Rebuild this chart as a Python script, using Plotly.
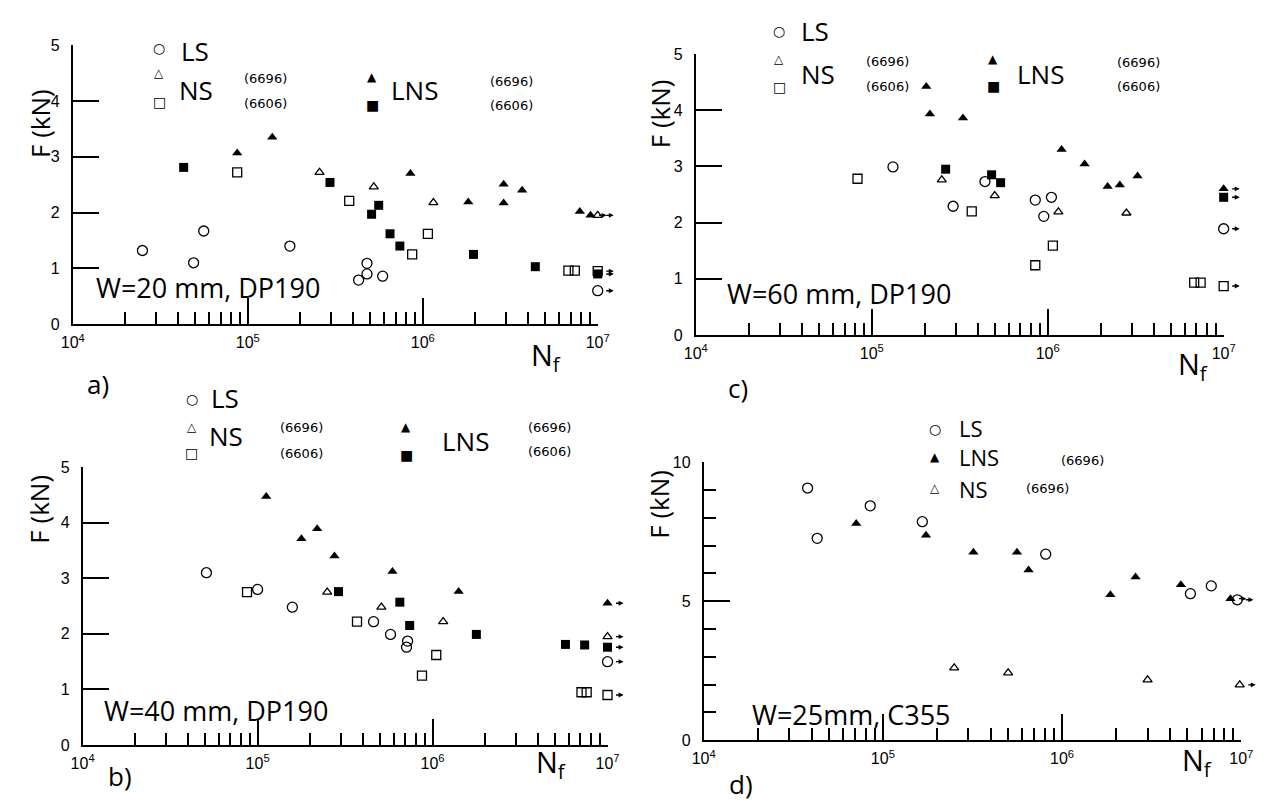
import math
import plotly.graph_objects as go

W, H = 1269, 803

# ---------------- data (N = cycles to failure, F in kN) ----------------
# Panel a) W=20 mm, DP190
a_LS_N = [2.5e4, 4.9e4, 5.6e4, 1.74e5, 4.3e5, 4.8e5, 4.8e5, 5.9e5, 1e7]
a_LS_F = [1.32, 1.10, 1.67, 1.40, 0.79, 0.90, 1.09, 0.86, 0.60]
a_NS96_N = [2.57e5, 5.25e5, 1.15e6, 1e7]
a_NS96_F = [2.72, 2.46, 2.18, 1.95]
a_NS06_N = [8.7e4, 3.8e5, 1.07e6, 8.7e5, 6.8e6, 7.4e6, 1e7]
a_NS06_F = [2.72, 2.21, 1.62, 1.25, 0.96, 0.96, 0.95]
a_LNS96_N = [8.7e4, 1.38e5, 8.5e5, 1.82e6, 2.9e6, 2.9e6, 3.7e6, 7.9e6, 9.1e6]
a_LNS96_F = [3.07, 3.35, 2.70, 2.19, 2.51, 2.17, 2.40, 2.02, 1.95]
a_LNS06_N = [4.3e4, 2.95e5, 5.1e5, 5.6e5, 6.5e5, 7.4e5, 1.95e6, 4.4e6, 1e7]
a_LNS06_F = [2.81, 2.54, 1.97, 2.13, 1.62, 1.40, 1.25, 1.03, 0.90]

# Panel b) W=40 mm, DP190
b_LS_N = [5.1e4, 1.0e5, 1.58e5, 4.6e5, 5.75e5, 7.2e5, 7.1e5, 1e7]
b_LS_F = [3.10, 2.80, 2.48, 2.22, 1.99, 1.87, 1.76, 1.50]
b_NS96_N = [2.5e5, 5.1e5, 1.15e6, 1e7]
b_NS96_F = [2.75, 2.48, 2.22, 1.95]
b_NS06_N = [8.7e4, 3.7e5, 8.7e5, 1.05e6, 7.1e6, 7.6e6, 1e7]
b_NS06_F = [2.75, 2.22, 1.25, 1.62, 0.95, 0.95, 0.90]
b_LNS96_N = [1.12e5, 1.78e5, 2.19e5, 2.75e5, 5.9e5, 1.41e6, 1e7]
b_LNS96_F = [4.47, 3.71, 3.89, 3.40, 3.12, 2.76, 2.55]
b_LNS06_N = [2.9e5, 6.5e5, 7.4e5, 1.78e6, 5.75e6, 7.4e6, 1e7]
b_LNS06_F = [2.76, 2.57, 2.15, 1.99, 1.81, 1.80, 1.76]

# Panel c) W=60 mm, DP190
c_LS_N = [1.32e5, 2.9e5, 4.4e5, 8.5e5, 1.05e6, 9.5e5, 1e7]
c_LS_F = [2.99, 2.29, 2.73, 2.40, 2.45, 2.11, 1.89]
c_NS96_N = [2.5e5, 5.0e5, 1.15e6, 2.8e6]
c_NS96_F = [2.76, 2.48, 2.19, 2.17]
c_NS06_N = [8.3e4, 3.7e5, 8.5e5, 1.07e6, 6.8e6, 7.4e6, 1e7]
c_NS06_F = [2.78, 2.20, 1.24, 1.59, 0.93, 0.93, 0.87]
c_LNS96_N = [2.04e5, 2.14e5, 3.3e5, 1.2e6, 1.62e6, 2.19e6, 2.57e6, 3.24e6, 1e7]
c_LNS96_F = [4.42, 3.93, 3.86, 3.30, 3.04, 2.64, 2.67, 2.83, 2.60]
c_LNS06_N = [2.63e5, 4.8e5, 5.4e5, 1e7]
c_LNS06_F = [2.95, 2.85, 2.71, 2.45]

# Panel d) W=25 mm, C355
d_LS_N = [3.8e4, 4.3e4, 8.5e4, 1.66e5, 8.1e5, 5.2e6, 6.8e6, 9.5e6]
d_LS_F = [9.07, 7.26, 8.43, 7.86, 6.69, 5.27, 5.55, 5.05]
d_LNS96_N = [7.1e4, 1.74e5, 3.2e5, 5.6e5, 6.5e5, 1.86e6, 2.57e6, 4.6e6, 8.7e6]
d_LNS96_F = [7.79, 7.37, 6.76, 6.76, 6.12, 5.23, 5.87, 5.59, 5.09]
d_NS96_N = [2.5e5, 5.0e5, 3.0e6, 9.8e6]
d_NS96_F = [2.60, 2.42, 2.17, 1.99]

x_major = [1e4, 1e5, 1e6, 1e7]
x_major_text = ["10<sup>4</sup>", "10<sup>5</sup>", "10<sup>6</sup>", "10<sup>7</sup>"]
x_minor = [m * 10 ** e for e in (4, 5, 6) for m in range(2, 10)]
RUNOUT = 8.5e6   # points at the end of the test (arrows)

# ---------------- styles ----------------
STY = {
    "LS": dict(symbol="circle-open", size=10, color="black", line=dict(width=1.3, color="black")),
    "NS96": dict(symbol="triangle-up-open", size=8, color="black", line=dict(width=1.3, color="black")),
    "NS06": dict(symbol="square-open", size=9, color="black", line=dict(width=1.3, color="black")),
    "LNS96": dict(symbol="triangle-up", size=9, color="black", line=dict(width=0, color="black")),
    "LNS06": dict(symbol="square", size=9, color="black", line=dict(width=0, color="black")),
}
TICKFONT = dict(family="Liberation Sans", size=16, color="black")
BIG = "Open Sans"

panels = {
    "a": dict(px=(62, 597), py=(38, 323), yr=[0, 5], ymaj=[0, 1, 2, 3, 4, 5], ymin=[],
              series=[("LS", a_LS_N, a_LS_F), ("NS96", a_NS96_N, a_NS96_F), ("NS06", a_NS06_N, a_NS06_F),
                      ("LNS96", a_LNS96_N, a_LNS96_F), ("LNS06", a_LNS06_N, a_LNS06_F)]),
    "b": dict(px=(72, 607), py=(469, 753), yr=[0, 5], ymaj=[0, 1, 2, 3, 4, 5], ymin=[],
              series=[("LS", b_LS_N, b_LS_F), ("NS96", b_NS96_N, b_NS96_F), ("NS06", b_NS06_N, b_NS06_F),
                      ("LNS96", b_LNS96_N, b_LNS96_F), ("LNS06", b_LNS06_N, b_LNS06_F)]),
    "c": dict(px=(697, 1235), py=(47, 334), yr=[0, 5], ymaj=[0, 1, 2, 3, 4, 5], ymin=[],
              series=[("LS", c_LS_N, c_LS_F), ("NS96", c_NS96_N, c_NS96_F), ("NS06", c_NS06_N, c_NS06_F),
                      ("LNS96", c_LNS96_N, c_LNS96_F), ("LNS06", c_LNS06_N, c_LNS06_F)]),
    "d": dict(px=(705, 1253), py=(464, 748), yr=[0, 10], ymaj=[0, 5, 10], ymin=[1, 2, 3, 4, 6, 7, 8, 9],
              series=[("LS", d_LS_N, d_LS_F), ("LNS96", d_LNS96_N, d_LNS96_F), ("NS96", d_NS96_N, d_NS96_F)]),
}

fig = go.Figure()
annotations = []

def pxX(p):
    return p / W

def pxY(p):
    return 1 - p / H

for i, (key, P) in enumerate(panels.items(), start=1):
    xa = "x" if i == 1 else f"x{i}"
    ya = "y" if i == 1 else f"y{i}"
    xname = "xaxis" if i == 1 else f"xaxis{i}"
    yname = "yaxis" if i == 1 else f"yaxis{i}"
    for name, N, F in P["series"]:
        fig.add_trace(go.Scatter(x=N, y=F, mode="markers", marker=STY[name],
                                 xaxis=xa, yaxis=ya, showlegend=False, cliponaxis=False,
                                 hoverinfo="x+y"))
        for n, f in zip(N, F):
            if n >= RUNOUT:
                annotations.append(dict(x=math.log10(n), y=f, xref=xa, yref=ya, text="",
                                        showarrow=True, arrowhead=2, arrowsize=0.7, arrowwidth=1.4,
                                        arrowcolor="black", ax=-9, ay=0, xshift=16))
    fig.update_layout({
        xname: dict(type="log", range=[4, 7], domain=[pxX(P["px"][0]), pxX(P["px"][1])],
                    anchor=ya, showline=True, linecolor="black", linewidth=1.8,
                    ticks="inside", ticklen=26, tickwidth=1.6, tickcolor="black",
                    tickmode="array", tickvals=x_major, ticktext=x_major_text, tickfont=TICKFONT,
                    ticklabelstandoff=3,
                    showgrid=False, zeroline=False,
                    minor=dict(tickmode="array", tickvals=x_minor, ticks="inside", ticklen=12,
                               tickwidth=1.5, tickcolor="black", showgrid=False)),
        yname: dict(range=P["yr"], domain=[pxY(P["py"][1]), pxY(P["py"][0])],
                    anchor=xa, showline=True, linecolor="black", linewidth=1.8,
                    ticks="inside", ticklen=26, tickwidth=1.6, tickcolor="black",
                    tickmode="array", tickvals=P["ymaj"], tickfont=TICKFONT,
                    ticklabelstandoff=8,
                    showgrid=False, zeroline=False,
                    minor=dict(tickmode="array", tickvals=P["ymin"], ticks="inside", ticklen=12,
                               tickwidth=1.5, tickcolor="black", showgrid=False)),
    })

def txt(x, y, s, size, xanchor="left", family=BIG, angle=0, yanchor="middle"):
    annotations.append(dict(x=pxX(x), y=pxY(y), xref="paper", yref="paper", text=s,
                            showarrow=False, xanchor=xanchor, yanchor=yanchor, textangle=angle,
                            font=dict(family=family, size=size, color="black")))

SYM = {"LS": "○", "NS96": "△", "NS06": "□", "LNS96": "▲", "LNS06": "■"}
SYMSIZE = {"LS": 14, "NS96": 12, "NS06": 14, "LNS96": 12, "LNS06": 14}

def sym(x, y, k):
    txt(x, y, SYM[k], SYMSIZE[k], xanchor="center", family="DejaVu Sans")

SMALL = "DejaVu Sans"

# ---- panel a texts ----
txt(28, 118, "F (kN)", 26, xanchor="center", angle=-90)
txt(84, 286, "W=20 mm, DP190", 27)
txt(88, 384, "a)", 26, xanchor="center")
txt(527, 356, "N<sub>f</sub>", 29)
sym(150, 41, "LS"); txt(170, 44, "LS", 26)
sym(150, 66, "NS96"); sym(150, 96, "NS06"); txt(168, 84, "NS", 26)
txt(234, 72, "(6696)", 13, family=SMALL); txt(234, 98, "(6606)", 13, family=SMALL)
sym(367, 70, "LNS96"); sym(367, 99, "LNS06"); txt(384, 84, "LNS", 26)
txt(485, 75, "(6696)", 13, family=SMALL); txt(485, 100, "(6606)", 13, family=SMALL)

# ---- panel b texts ----
txt(28, 512, "F (kN)", 26, xanchor="center", angle=-90)
txt(92, 718, "W=40 mm, DP190", 27)
txt(110, 785, "b)", 26, xanchor="center")
txt(532, 772, "N<sub>f</sub>", 29)
sym(183, 399, "LS"); txt(201, 398, "LS", 26)
sym(183, 428, "NS96"); sym(183, 455, "NS06"); txt(199, 437, "NS", 26)
txt(271, 429, "(6696)", 13, family=SMALL); txt(271, 455, "(6606)", 13, family=SMALL)
sym(402, 428, "LNS96"); sym(402, 457, "LNS06"); txt(436, 442, "LNS", 26)
txt(524, 429, "(6696)", 13, family=SMALL); txt(524, 453, "(6606)", 13, family=SMALL)

# ---- panel c texts ----
txt(660, 108, "F (kN)", 26, xanchor="center", angle=-90)
txt(727, 292, "W=60 mm, DP190", 27)
txt(740, 388, "c)", 26, xanchor="center")
txt(1186, 365, "N<sub>f</sub>", 29)
sym(782, 24, "LS"); txt(802, 23, "LS", 26)
sym(782, 52, "NS96"); sym(782, 81, "NS06"); txt(802, 67, "NS", 26)
txt(868, 55, "(6696)", 13, family=SMALL); txt(868, 80, "(6606)", 13, family=SMALL)
sym(1000, 52, "LNS96"); sym(1000, 80, "LNS06"); txt(1022, 67, "LNS", 26)
txt(1124, 56, "(6696)", 13, family=SMALL); txt(1124, 80, "(6606)", 13, family=SMALL)

# ---- panel d texts ----
txt(660, 507, "F (kN)", 26, xanchor="center", angle=-90)
txt(752, 722, "W=25mm, C355", 27)
txt(743, 793, "d)", 26, xanchor="center")
txt(1191, 770, "N<sub>f</sub>", 29)
sym(941, 430, "LS"); txt(963, 429, "LS", 22)
sym(941, 459, "LNS96"); txt(963, 459, "LNS", 22)
txt(1067, 462, "(6696)", 13, family=SMALL)
sym(941, 490, "NS96"); txt(963, 491, "NS", 22)
txt(1032, 491, "(6696)", 13, family=SMALL)

fig.update_layout(width=W, height=H, margin=dict(l=0, r=0, t=0, b=0),
                  paper_bgcolor="white", plot_bgcolor="white",
                  annotations=annotations, showlegend=False)

fig.write_html("out.html")
